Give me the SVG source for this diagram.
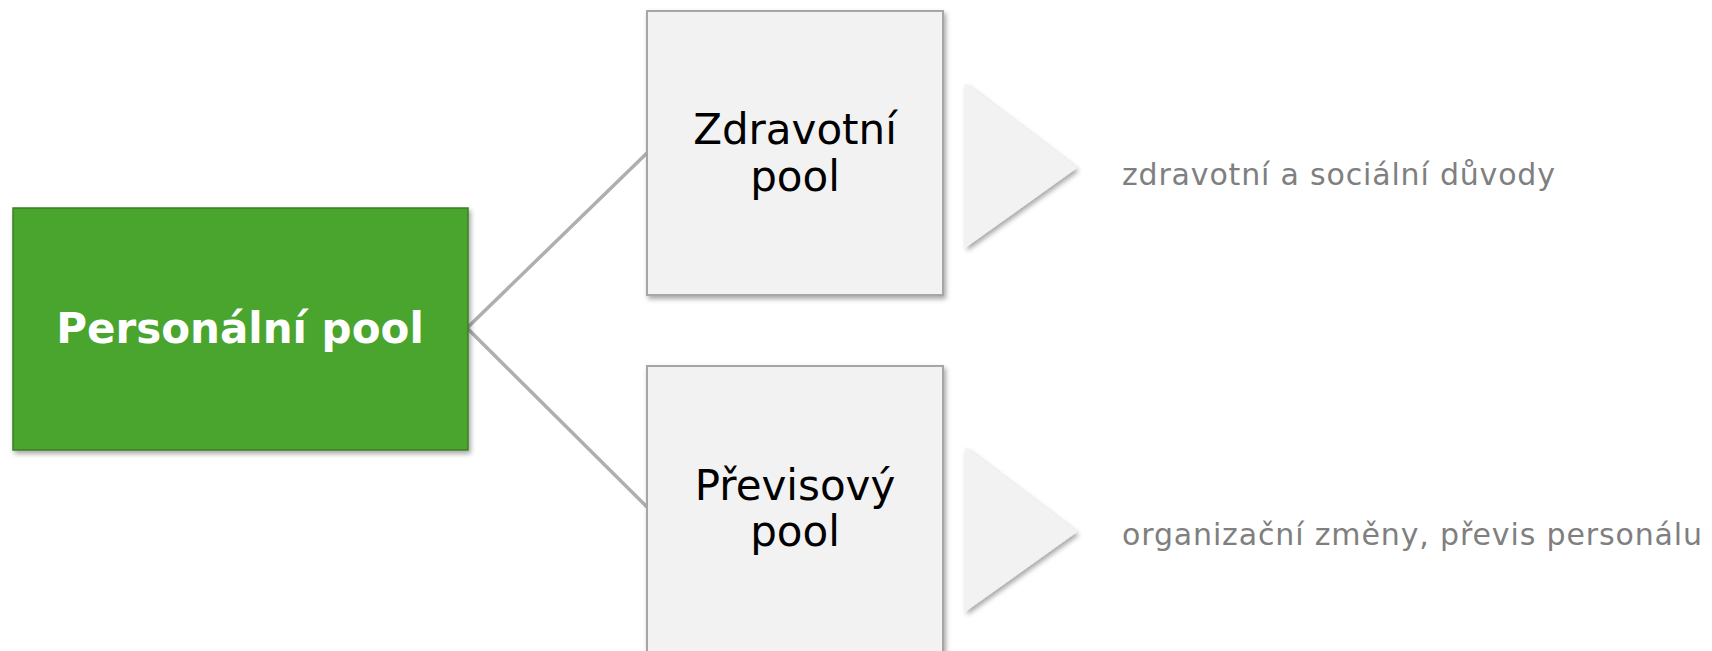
<svg xmlns="http://www.w3.org/2000/svg" width="1712" height="651" viewBox="0 0 1712 651">
<style>
.main{fill:#4AA52F;stroke:#3C7F26;stroke-width:1.5}
.box{fill:#F2F2F2;stroke:#A6A6A6;stroke-width:2}
.tri{fill:#F2F2F2}
.conn{stroke:#AFAFAF;stroke-width:3.5;fill:none}
.t1{font-family:"DejaVu Sans",Verdana,sans-serif;font-weight:bold;font-size:42px;fill:#FFFFFF;text-anchor:middle}
.t2{font-family:"DejaVu Sans",Verdana,sans-serif;font-size:42px;fill:#000000;text-anchor:middle}
.t3{font-family:"DejaVu Sans",Verdana,sans-serif;font-size:30px;fill:#7F7F7F}
</style>
<defs>
<filter id="sh" x="-10%" y="-10%" width="130%" height="130%">
<feDropShadow dx="2" dy="3" stdDeviation="2.5" flood-color="#000" flood-opacity="0.35"/>
</filter>
</defs>
<rect width="1712" height="651" fill="#FFFFFF"/>
<g id="connectors">
<polyline class="conn" points="647,153 467,328 647,507"/>
</g>
<g id="personalni-pool">
<rect class="main" x="13" y="208" width="455" height="242" filter="url(#sh)"/>
<text class="t1" x="240" y="343">Personální pool</text>
</g>
<g id="zdravotni-pool">
<rect class="box" x="647" y="11" width="296" height="284" filter="url(#sh)"/>
<text class="t2" x="795" y="144">Zdravotní</text>
<text class="t2" x="795" y="191">pool</text>
</g>
<g id="previsovy-pool">
<rect class="box" x="647" y="366" width="296" height="300" filter="url(#sh)"/>
<text class="t2" x="795" y="500">Převisový</text>
<text class="t2" x="795" y="546">pool</text>
</g>
<g id="arrow-1">
<polygon class="tri" points="965,83 1077,168 965,248" filter="url(#sh)"/>
</g>
<g id="arrow-2">
<polygon class="tri" points="965,447 1077,532 965,612" filter="url(#sh)"/>
</g>
<g id="label-1">
<text class="t3" x="1122" y="185" textLength="433" lengthAdjust="spacing">zdravotní a sociální důvody</text>
</g>
<g id="label-2">
<text class="t3" x="1122" y="545" textLength="580" lengthAdjust="spacing">organizační změny, převis personálu</text>
</g>
</svg>
